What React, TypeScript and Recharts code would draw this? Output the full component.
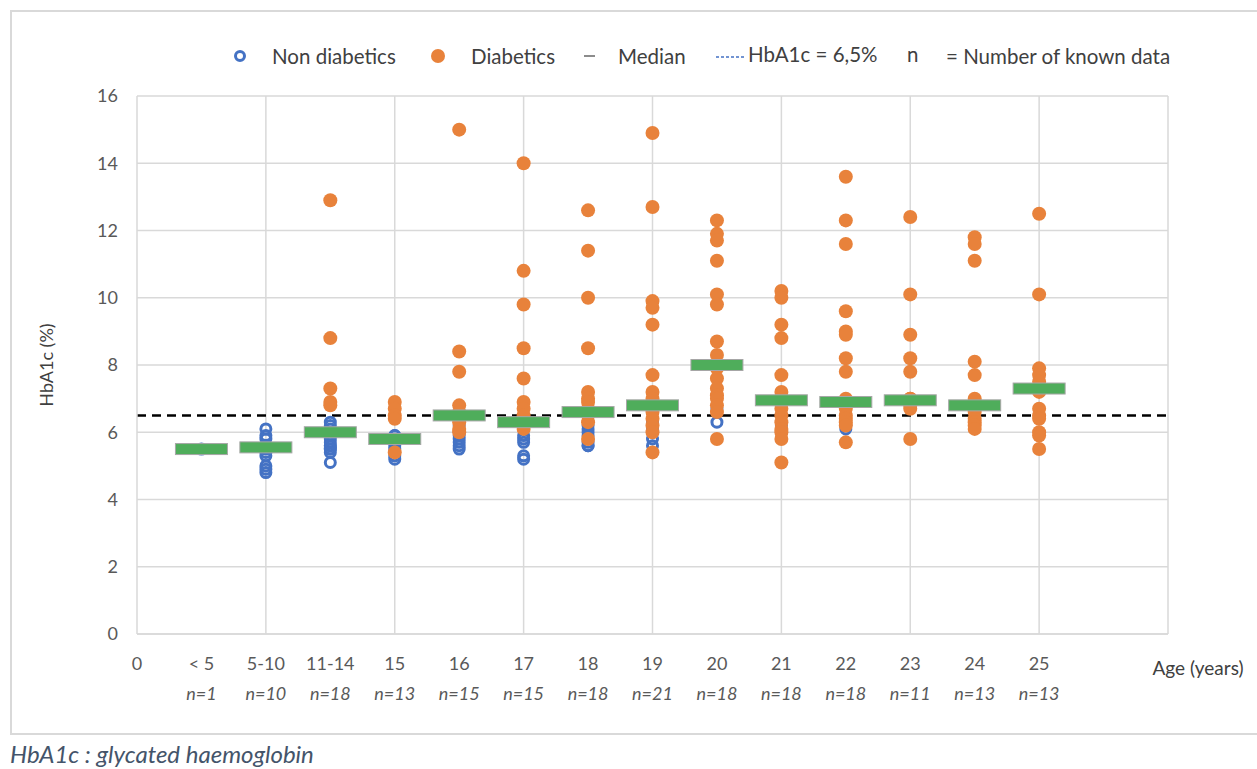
import React from "react";
import { CartesianGrid, Label, ReferenceLine, Scatter, ScatterChart, XAxis, YAxis } from "recharts";

// Age groups, shown on the x axis at positions 1..14
const categories = ["< 5", "5-10", "11-14", "15", "16", "17", "18", "19", "20", "21", "22", "23", "24", "25"];
const counts = ["n=1", "n=10", "n=18", "n=13", "n=15", "n=15", "n=18", "n=21", "n=18", "n=18", "n=18", "n=11", "n=13", "n=13"];

// HbA1c (%) per age group
const nonDiabetic: number[][] = [
    [5.5],
    [6.1, 5.9, 5.8, 5.6, 5.5, 5.4, 5.3, 5.0, 4.9, 4.8],
    [6.3, 6.2, 6.1, 6.0, 5.9, 5.8, 5.7, 5.6, 5.6, 5.5, 5.5, 5.4, 5.1],
    [5.9, 5.9, 5.8, 5.7, 5.6, 5.5, 5.3, 5.2],
    [6.2, 6.0, 5.9, 5.8, 5.7, 5.6, 5.5],
    [5.9, 5.8, 5.7, 5.3, 5.2],
    [6.2, 6.1, 6.0, 5.9, 5.7, 5.6, 5.6],
    [6.6, 6.3, 6.2, 6.1, 6.0, 5.8, 5.6],
    [6.7, 6.3],
    [6.5, 6.2, 6.0],
    [6.2, 6.1],
    [],
    [],
    [],
];

const diabetic: number[][] = [
    [],
    [],
    [12.9, 8.8, 7.3, 6.9, 6.8],
    [6.9, 6.7, 6.5, 6.4, 5.4],
    [15.0, 8.4, 7.8, 6.8, 6.6, 6.3, 6.1, 6.0],
    [14.0, 10.8, 9.8, 8.5, 7.6, 6.9, 6.7, 6.5, 6.3, 6.1],
    [12.6, 11.4, 10.0, 8.5, 7.2, 7.0, 6.9, 6.7, 6.5, 6.3, 5.8],
    [14.9, 12.7, 9.9, 9.7, 9.2, 7.7, 7.2, 7.0, 6.8, 6.6, 6.4, 6.2, 6.0, 5.4],
    [12.3, 11.9, 11.7, 11.1, 10.1, 9.8, 8.7, 8.3, 7.9, 7.6, 7.3, 7.1, 7.0, 6.8, 6.6, 5.8],
    [10.2, 10.0, 9.2, 8.8, 7.7, 7.2, 7.0, 6.9, 6.7, 6.5, 6.3, 6.1, 6.0, 5.8, 5.1],
    [13.6, 12.3, 11.6, 9.6, 9.0, 8.9, 8.2, 7.8, 7.0, 6.9, 6.7, 6.5, 6.4, 6.3, 6.2, 5.7],
    [12.4, 10.1, 8.9, 8.2, 7.8, 7.0, 7.0, 6.9, 6.8, 6.7, 5.8],
    [11.8, 11.6, 11.1, 8.1, 7.7, 7.0, 6.9, 6.8, 6.6, 6.4, 6.3, 6.2, 6.1],
    [12.5, 10.1, 7.9, 7.7, 7.5, 7.3, 7.2, 6.7, 6.5, 6.4, 6.0, 5.9, 5.5],
];

const medians = [5.5, 5.55, 6.0, 5.8, 6.5, 6.3, 6.6, 6.8, 8.0, 6.95, 6.9, 6.95, 6.8, 7.3];

const threshold = 6.5;
const yTicks = [0, 2, 4, 6, 8, 10, 12, 14, 16];
const xTicks = [0, ...categories.map((_, i) => i + 1)];
const xGrid = [2, 4, 6, 8, 10, 12, 14, 16];

const toPoints = (groups: number[][]) =>
    groups.flatMap((values, i) => values.map((v) => ({ x: i + 1, y: v })));

const nonDiabeticPoints = toPoints(nonDiabetic);
const diabeticPoints = toPoints(diabetic);
const medianPoints = medians.map((v, i) => ({ x: i + 1, y: v }));

const BLUE = "#4472C4";
const ORANGE = "#E8823B";
const GREEN = "#4FAD5B";
const GRID = "#d9d9d9";
const TEXT = "#404040";
const TICK = "#595959";
const FONT = "Lato, 'Open Sans', sans-serif";

const OpenCircle = (props: any) => (
    <circle cx={props.cx} cy={props.cy} r={5} fill="none" stroke={BLUE} strokeWidth={3} />
);

const FilledCircle = (props: any) => (
    <circle cx={props.cx} cy={props.cy} r={7} fill={ORANGE} />
);

const MedianBar = (props: any) => (
    <rect x={props.cx - 26} y={props.cy - 5.5} width={52} height={11} fill={GREEN} stroke="#a6a6a6" strokeWidth={1} />
);

const AgeTick = (props: any) => {
    const { x, y, payload } = props;
    const i = payload.value - 1;
    if (payload.value === 0) {
        return (
            <text x={x} y={y + 28} textAnchor="middle" fill={TICK} fontSize={18} fontFamily={FONT}>0</text>
        );
    }
    return (
        <g>
            <text x={x} y={y + 28} textAnchor="middle" fill={TICK} fontSize={18} fontFamily={FONT}>
                {categories[i]}
            </text>
            <text x={x} y={y + 58} textAnchor="middle" fill={TICK} fontSize={18} fontStyle="italic" fontFamily={FONT}>
                {counts[i]}
            </text>
        </g>
    );
};

const LegendRow = () => (
    <svg width={1257} height={30} style={{ position: "absolute", left: 0, top: 42 }}>
        <g fontFamily={FONT} fontSize={20.5} fill={TEXT}>
            <circle cx={240} cy={14} r={4.5} fill="none" stroke={BLUE} strokeWidth={3} />
            <text x={272} y={22}>Non diabetics</text>
            <circle cx={438} cy={14} r={7} fill={ORANGE} />
            <text x={471} y={22}>Diabetics</text>
            <line x1={584} x2={595} y1={14} y2={14} stroke="#8c8c8c" strokeWidth={2} />
            <text x={618} y={22}>Median</text>
            <line x1={716} x2={746} y1={15} y2={15} stroke={BLUE} strokeWidth={1.5} strokeDasharray="3 2" />
            <text x={748} y={20}>HbA1c = 6,5%</text>
            <text x={907} y={20}>n</text>
            <text x={946} y={22}>= Number of known data</text>
        </g>
    </svg>
);

export default function App() {
    return (
        <div style={{ position: "absolute", left: 0, top: 0, width: 1257, height: 769, background: "#fff", overflow: "hidden" }}>
            <div
                style={{
                    position: "absolute",
                    left: 10,
                    top: 10,
                    width: 1280,
                    height: 721,
                    border: `2px solid ${GRID}`,
                }}
            />
            <div style={{ position: "absolute", left: 0, top: 0 }}>
                <ScatterChart width={1257} height={769} margin={{ top: 96, right: 89, bottom: 105, left: 77 }}>
                    <CartesianGrid vertical={false} stroke={GRID} strokeWidth={1.5} />
                    {xGrid.map((v) => (
                        <ReferenceLine key={v} x={v} stroke={GRID} strokeWidth={1.5} />
                    ))}
                    <XAxis
                        type="number"
                        dataKey="x"
                        domain={[0, 16]}
                        ticks={xTicks}
                        interval={0}
                        height={30}
                        tick={<AgeTick />}
                        tickLine={false}
                        axisLine={{ stroke: GRID, strokeWidth: 1.5 }}
                    >
                        <Label
                            content={(p: any) => (
                                <text
                                    x={p.viewBox.x + p.viewBox.width + 30}
                                    y={p.viewBox.y + 41}
                                    textAnchor="middle"
                                    fill={TEXT}
                                    fontSize={19}
                                    fontFamily={FONT}
                                >
                                    Age (years)
                                </text>
                            )}
                        />
                    </XAxis>
                    <YAxis
                        type="number"
                        dataKey="y"
                        width={60}
                        domain={[0, 16]}
                        ticks={yTicks}
                        tickLine={false}
                        tickSize={6}
                        tickMargin={13}
                        axisLine={{ stroke: GRID, strokeWidth: 1.5 }}
                        tick={{ fill: TICK, fontSize: 18, fontFamily: FONT }}
                    >
                        <Label
                            content={(p: any) => (
                                <text
                                    x={p.viewBox.x - 24}
                                    y={p.viewBox.y + p.viewBox.height / 2}
                                    transform={`rotate(-90 ${p.viewBox.x - 24} ${p.viewBox.y + p.viewBox.height / 2})`}
                                    textAnchor="middle"
                                    fill={TEXT}
                                    fontSize={18}
                                    fontFamily={FONT}
                                >
                                    HbA1c (%)
                                </text>
                            )}
                        />
                    </YAxis>
                    <Scatter name="Non diabetics" data={nonDiabeticPoints} shape={<OpenCircle />} isAnimationActive={false} />
                    <Scatter name="Diabetics" data={diabeticPoints} shape={<FilledCircle />} isAnimationActive={false} />
                    <Scatter name="Median" data={medianPoints} shape={<MedianBar />} isAnimationActive={false} />
                    <ReferenceLine y={threshold} stroke="#000" strokeWidth={2.5} strokeDasharray="9 6" />
                </ScatterChart>
            </div>
            <LegendRow />
            <div
                style={{
                    position: "absolute",
                    left: 10,
                    top: 739,
                    fontFamily: FONT,
                    fontStyle: "italic",
                    fontSize: 24,
                    color: "#44546A",
                }}
            >
                HbA1c : glycated haemoglobin
            </div>
        </div>
    );
}
